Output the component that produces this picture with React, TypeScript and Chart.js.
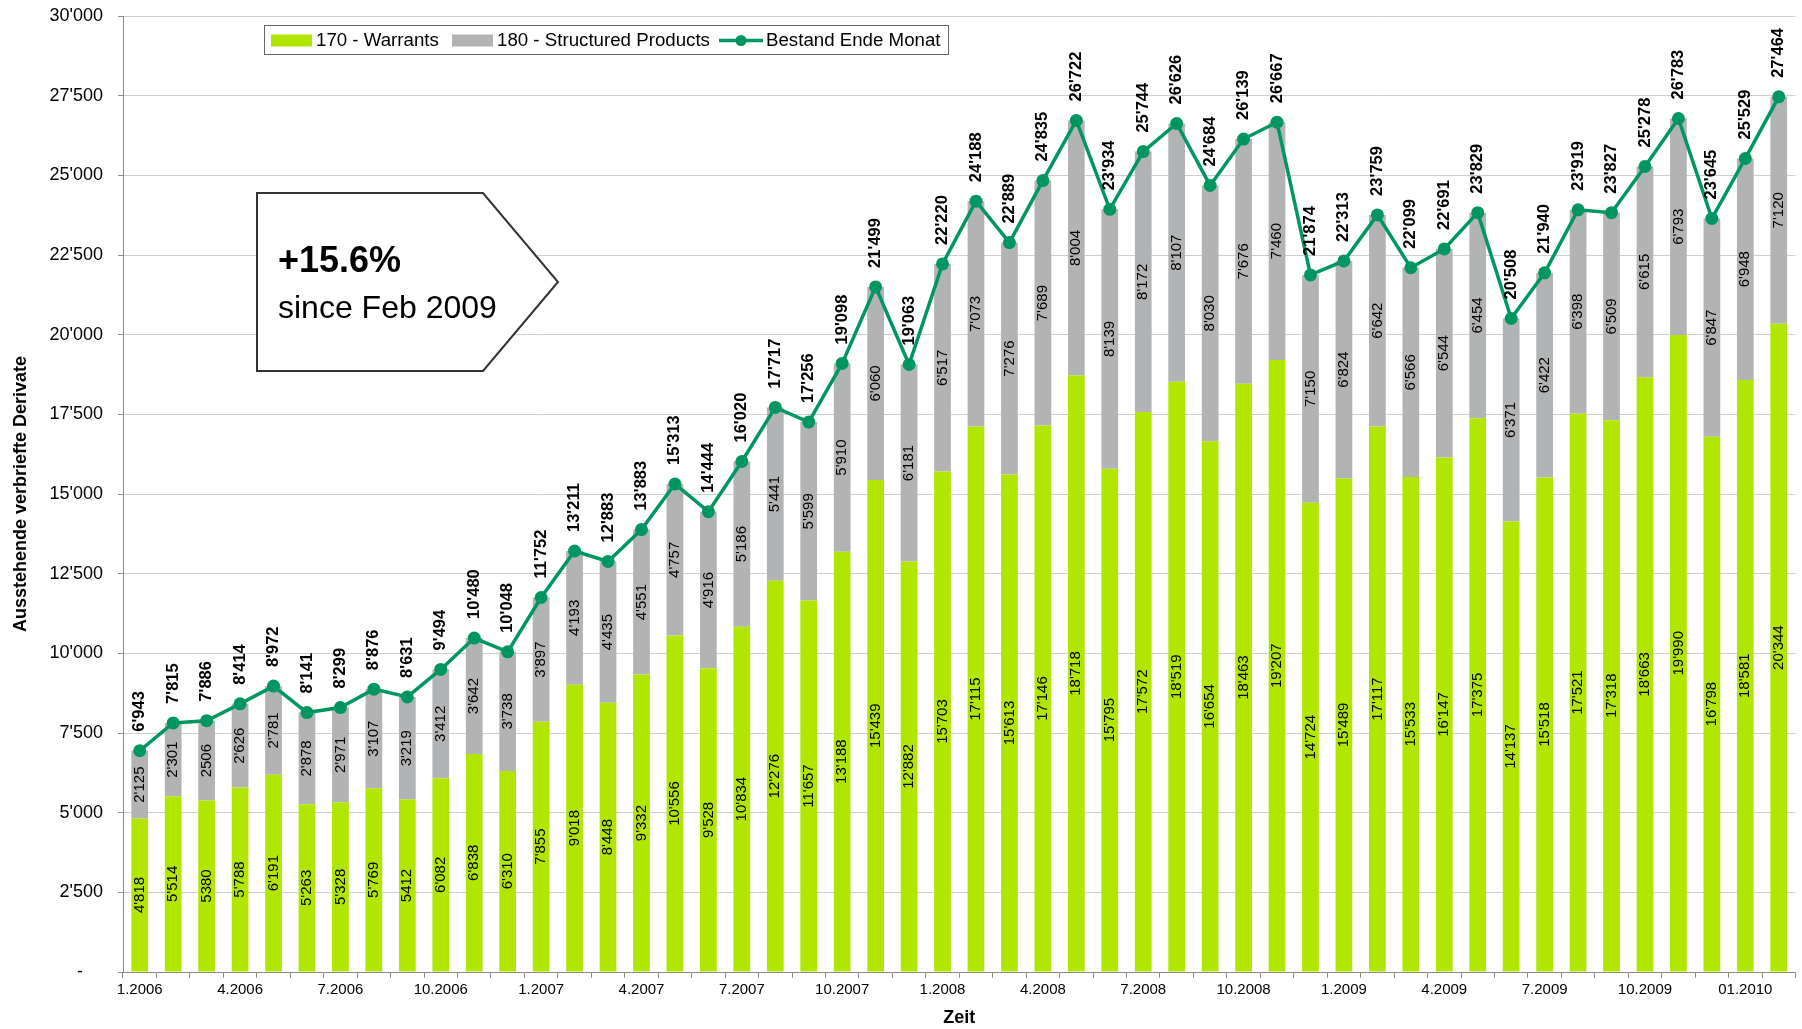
import React, { useEffect, useRef } from 'react';
import { Chart, registerables } from 'chart.js';

Chart.register(...registerables);

const categories = [
  '1.2006', '2.2006', '3.2006', '4.2006', '5.2006', '6.2006', '7.2006', '8.2006', '9.2006', '10.2006', '11.2006', '12.2006',
  '1.2007', '2.2007', '3.2007', '4.2007', '5.2007', '6.2007', '7.2007', '8.2007', '9.2007', '10.2007', '11.2007', '12.2007',
  '1.2008', '2.2008', '3.2008', '4.2008', '5.2008', '6.2008', '7.2008', '8.2008', '9.2008', '10.2008', '11.2008', '12.2008',
  '1.2009', '2.2009', '3.2009', '4.2009', '5.2009', '6.2009', '7.2009', '8.2009', '9.2009', '10.2009', '11.2009', '12.2009',
  '01.2010', '02.2010',
];

const warrants = [
  4818, 5514, 5380, 5788, 6191, 5263, 5328, 5769, 5412, 6082, 6838, 6310,
  7855, 9018, 8448, 9332, 10556, 9528, 10834, 12276, 11657, 13188, 15439, 12882,
  15703, 17115, 15613, 17146, 18718, 15795, 17572, 18519, 16654, 18463, 19207, 14724,
  15489, 17117, 15533, 16147, 17375, 14137, 15518, 17521, 17318, 18663, 19990, 16798,
  18581, 20344,
];

const structured = [
  2125, 2301, 2506, 2626, 2781, 2878, 2971, 3107, 3219, 3412, 3642, 3738,
  3897, 4193, 4435, 4551, 4757, 4916, 5186, 5441, 5599, 5910, 6060, 6181,
  6517, 7073, 7276, 7689, 8004, 8139, 8172, 8107, 8030, 7676, 7460, 7150,
  6824, 6642, 6566, 6544, 6454, 6371, 6422, 6398, 6509, 6615, 6793, 6847,
  6948, 7120,
];

const totals = [
  6943, 7815, 7886, 8414, 8972, 8141, 8299, 8876, 8631, 9494, 10480, 10048,
  11752, 13211, 12883, 13883, 15313, 14444, 16020, 17717, 17256, 19098, 21499, 19063,
  22220, 24188, 22889, 24835, 26722, 23934, 25744, 26626, 24684, 26139, 26667, 21874,
  22313, 23759, 22099, 22691, 23829, 20508, 21940, 23919, 23827, 25278, 26783, 23645,
  25529, 27464,
];

// labels in the source shown without the thousands separator
const warrantsPlainIdx = [2, 8];
const structuredPlainIdx = [2];

const seriesNames = ['170 - Warrants', '180 - Structured Products', 'Bestand Ende Monat'];
const calloutTexts = ['+15.6%', 'since Feb 2009'];
const yAxisTitle = 'Ausstehende verbriefte Derivate';
const xAxisTitle = 'Zeit';

const GREEN = '#B0E600';
const GREY = '#B2B3B5';
const TEAL = '#00965F';
const FONT = "'Liberation Sans', Arial, sans-serif";

const fmt = (n: number, sep = true) =>
  sep ? String(n).replace(/\B(?=(\d{3})+(?!\d))/g, "'") : String(n);

function vText(ctx: CanvasRenderingContext2D, text: string, x: number, y: number, align: CanvasTextAlign) {
  ctx.save();
  ctx.translate(x, y);
  ctx.rotate(-Math.PI / 2);
  ctx.textAlign = align;
  ctx.textBaseline = 'middle';
  ctx.fillText(text, 0, 0);
  ctx.restore();
}

const labelsPlugin = {
  id: 'valueLabels',
  afterDatasetsDraw(chart: any) {
    const ctx: CanvasRenderingContext2D = chart.ctx;
    ctx.save();
    ctx.fillStyle = '#000';
    ctx.font = `15px ${FONT}`;
    const barSets = [
      { idx: 0, plain: warrantsPlainIdx },
      { idx: 1, plain: structuredPlainIdx },
    ];
    barSets.forEach(({ idx, plain }) => {
      const meta = chart.getDatasetMeta(idx);
      const data = chart.data.datasets[idx].data as number[];
      meta.data.forEach((el: any, i: number) => {
        const p = el.getProps(['x', 'y', 'base'], true);
        const cy = (p.y + p.base) / 2;
        vText(ctx, fmt(data[i], !plain.includes(i)), p.x, cy, 'center');
      });
    });
    const lmeta = chart.getDatasetMeta(2);
    ctx.font = `bold 16.5px ${FONT}`;
    lmeta.data.forEach((el: any, i: number) => {
      const p = el.getProps(['x', 'y'], true);
      vText(ctx, fmt(totals[i]), p.x, p.y - 19, 'left');
    });
    ctx.restore();
  },
  afterDraw(chart: any) {
    const ctx: CanvasRenderingContext2D = chart.ctx;
    const a = chart.chartArea;
    ctx.save();
    // legend
    const lx = a.left + 141.5;
    const ly = a.top + 9.5;
    const lw = 684;
    const lh = 29;
    ctx.fillStyle = '#fff';
    ctx.fillRect(lx, ly, lw, lh);
    ctx.strokeStyle = '#666';
    ctx.lineWidth = 1;
    ctx.strokeRect(lx, ly, lw, lh);
    const cy = ly + lh / 2 + 0.5;
    ctx.font = `18.7px ${FONT}`;
    ctx.textBaseline = 'middle';
    ctx.textAlign = 'left';
    // item 1
    ctx.fillStyle = GREEN;
    ctx.fillRect(a.left + 148, cy - 6, 41, 12);
    ctx.fillStyle = '#000';
    ctx.fillText(seriesNames[0], a.left + 193, cy);
    // item 2
    ctx.fillStyle = GREY;
    ctx.fillRect(a.left + 329, cy - 6, 41, 12);
    ctx.fillStyle = '#000';
    ctx.fillText(seriesNames[1], a.left + 374, cy);
    // item 3
    ctx.strokeStyle = TEAL;
    ctx.lineWidth = 3.5;
    ctx.beginPath();
    ctx.moveTo(a.left + 596, cy);
    ctx.lineTo(a.left + 640, cy);
    ctx.stroke();
    ctx.fillStyle = TEAL;
    ctx.beginPath();
    ctx.arc(a.left + 618, cy, 5.5, 0, Math.PI * 2);
    ctx.fill();
    ctx.fillStyle = '#000';
    ctx.fillText(seriesNames[2], a.left + 643, cy);

    // callout
    const x0 = a.left + 134;
    const y0 = a.top + 177;
    ctx.beginPath();
    ctx.moveTo(x0, y0);
    ctx.lineTo(x0 + 226, y0);
    ctx.lineTo(x0 + 301, y0 + 89);
    ctx.lineTo(x0 + 226, y0 + 178);
    ctx.lineTo(x0, y0 + 178);
    ctx.closePath();
    ctx.fillStyle = '#fff';
    ctx.fill();
    ctx.strokeStyle = '#333';
    ctx.lineWidth = 2;
    ctx.stroke();
    ctx.fillStyle = '#000';
    ctx.textBaseline = 'alphabetic';
    ctx.font = `bold 36px ${FONT}`;
    ctx.fillText(calloutTexts[0], x0 + 21, y0 + 79);
    ctx.font = `32px ${FONT}`;
    ctx.fillText(calloutTexts[1], x0 + 21, y0 + 125);
    ctx.restore();
  },
};

export default function App() {
  const ref = useRef<HTMLCanvasElement>(null);
  useEffect(() => {
    if (!ref.current) return;
    Chart.defaults.font.family = FONT;
    const chart = new Chart(ref.current, {
      type: 'bar',
      data: {
        labels: categories,
        datasets: [
          {
            type: 'bar',
            label: seriesNames[0],
            data: warrants,
            backgroundColor: GREEN,
            stack: 'bars',
            order: 1,
            barPercentage: 0.5,
            categoryPercentage: 1,
          },
          {
            type: 'bar',
            label: seriesNames[1],
            data: structured,
            backgroundColor: GREY,
            stack: 'bars',
            order: 2,
            barPercentage: 0.5,
            categoryPercentage: 1,
          },
          {
            type: 'line',
            label: seriesNames[2],
            data: totals,
            borderColor: TEAL,
            backgroundColor: TEAL,
            borderWidth: 3.5,
            pointRadius: 6.5,
            pointBorderWidth: 0,
            pointBackgroundColor: TEAL,
            tension: 0,
            stack: 'line',
            order: 0,
          } as any,
        ],
      },
      options: {
        animation: false,
        responsive: false,
        devicePixelRatio: 1,
        events: [],
        layout: { padding: { top: 16, right: 4, left: 0, bottom: 0 } },
        plugins: {
          legend: { display: false },
          tooltip: { enabled: false },
        },
        scales: {
          x: {
            stacked: true,
            offset: true,
            grid: {
              display: true,
              drawOnChartArea: false,
              drawTicks: true,
              tickLength: 6,
              color: '#8C8C8C',
              offset: true,
            },
            border: { color: '#8C8C8C' },
            ticks: {
              autoSkip: false,
              maxRotation: 0,
              minRotation: 0,
              padding: 3,
              color: '#000',
              font: { size: 15 },
              callback: (_v: any, i: number) => (i % 3 === 0 ? categories[i] : ''),
            },
            title: {
              display: true,
              text: xAxisTitle,
              color: '#000',
              font: { size: 18, weight: 'bold' },
              padding: { top: 0, bottom: 0 },
            },
            afterFit: (s: any) => {
              s.height = 57;
              s.paddingLeft = 0;
              s.paddingRight = 0;
            },
          },
          y: {
            stacked: true,
            min: 0,
            max: 30000,
            grid: {
              color: '#CFCFCF',
              tickColor: '#8C8C8C',
              tickLength: 5,
            },
            border: { color: '#8C8C8C' },
            ticks: {
              stepSize: 2500,
              padding: 15,
              color: '#000',
              font: { size: 18 },
              callback: (v: any) => (v === 0 ? '-    ' : fmt(Number(v))),
            },
            title: {
              display: true,
              text: yAxisTitle,
              color: '#000',
              font: { size: 18, weight: 'bold' },
              padding: { top: 10, bottom: 0 },
            },
            afterFit: (s: any) => {
              s.width = 123;
              s.paddingTop = 0;
              s.paddingBottom = 0;
            },
          },
        },
      },
      plugins: [labelsPlugin],
    } as any);
    return () => chart.destroy();
  }, []);
  return (
    <div style={{ position: 'fixed', left: 0, top: 0, width: 1802, height: 1029, background: '#fff' }}>
      <canvas ref={ref} width={1802} height={1029} style={{ display: 'block' }} />
    </div>
  );
}
